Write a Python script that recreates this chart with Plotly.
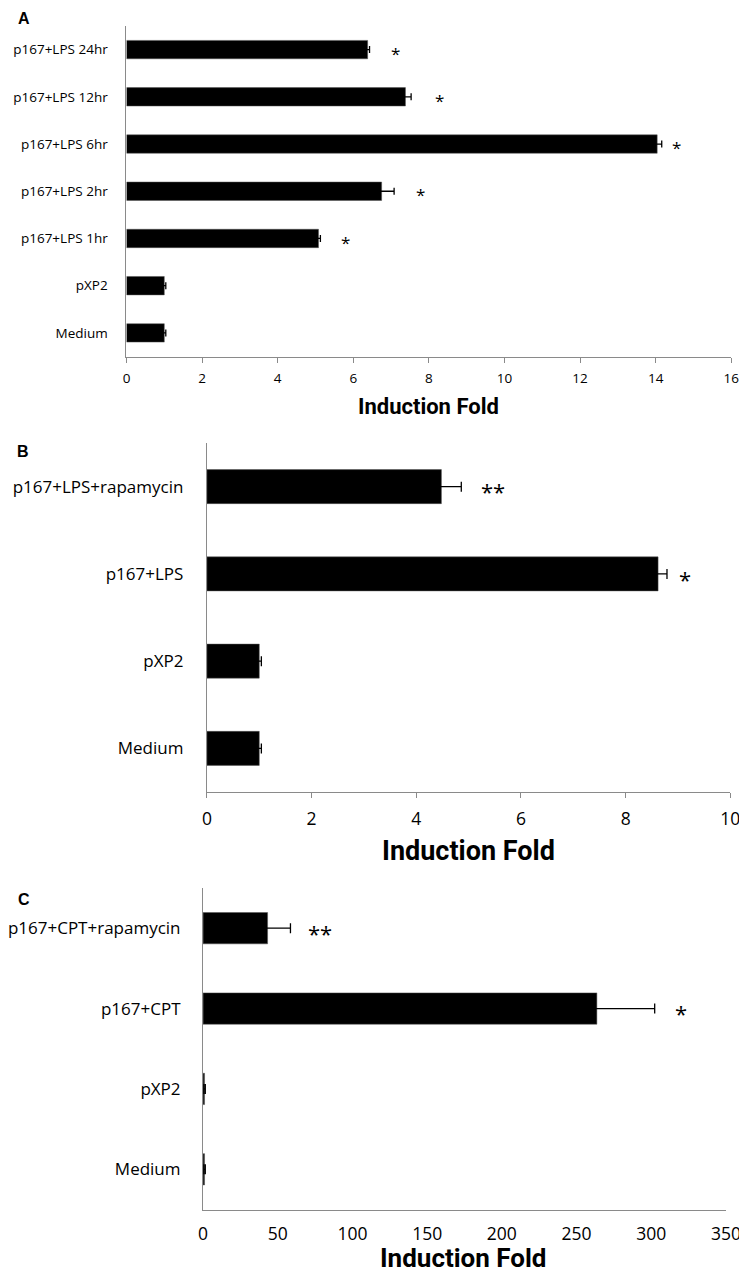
import plotly.graph_objects as go

# ---------------- data ----------------
cats_a = ["Medium", "pXP2", "p167+LPS 1hr", "p167+LPS 2hr", "p167+LPS 6hr", "p167+LPS 12hr", "p167+LPS 24hr"]
vals_a = [1.0, 1.0, 5.08, 6.75, 14.04, 7.38, 6.38]
errs_a = [0.04, 0.04, 0.05, 0.33, 0.12, 0.15, 0.05]
star_a = ["", "", "*", "*", "*", "*", "*"]
star_x_a = [None, None, 5.8, 7.77, 14.54, 8.27, 7.13]

cats_b = ["Medium", "pXP2", "p167+LPS", "p167+LPS+rapamycin"]
vals_b = [1.0, 1.0, 8.62, 4.48]
errs_b = [0.04, 0.04, 0.17, 0.38]
star_b = ["", "", "*", "**"]
star_x_b = [None, None, 9.14, 5.46]

cats_c = ["Medium", "pXP2", "p167+CPT", "p167+CPT+rapamycin"]
vals_c = [1.0, 1.0, 263.6, 43.2]
errs_c = [0.5, 0.5, 38.7, 15.3]
star_c = ["", "", "*", "**"]
star_x_c = [None, None, 319.6, 78.3]

ticks_a = [0, 2, 4, 6, 8, 10, 12, 14, 16]
ticks_b = [0, 2, 4, 6, 8, 10]
ticks_c = [0, 50, 100, 150, 200, 250, 300, 350]
axis_title = "Induction Fold"

# ---------------- layout helpers ----------------
W, H = 747, 1276
def px(x):
    return x / W
def py(y):
    return 1 - y / H

FONT = "Open Sans"
TFONT = "Roboto"
GRAY = "#8a8a8a"

panels = [
    dict(cats=cats_a, vals=vals_a, errs=errs_a, stars=star_a, sx=star_x_a, ticks=ticks_a,
         xdom=(114, 738), ydom=(18, 348.5), lab=13.5, tick=13.5, title=22, star=17,
         ttl_xy=(426, 398), letter="A", let_xy=(8, 11), ticklen=5, ystd=15, xstd=4, cap=3.5),
    dict(cats=cats_b, vals=vals_b, errs=errs_b, stars=star_b, sx=star_x_b, ticks=ticks_b,
         xdom=(197, 737), ydom=(435, 784), lab=17, tick=17.5, title=27, star=22,
         ttl_xy=(467, 843), letter="B", let_xy=(7, 444), ticklen=5, ystd=19, xstd=6, cap=5),
    dict(cats=cats_c, vals=vals_c, errs=errs_c, stars=star_c, sx=star_x_c, ticks=ticks_c,
         xdom=(193, 732.5), ydom=(880, 1201.5), lab=17, tick=17.5, title=26, star=22,
         ttl_xy=(461.5, 1250), letter="C", let_xy=(8, 891), ticklen=0, ystd=18, xstd=8, cap=5),
]

fig = go.Figure()
annotations = []
layout = dict(
    width=W, height=H,
    margin=dict(l=0, r=0, t=0, b=0),
    paper_bgcolor="white", plot_bgcolor="white",
    showlegend=False,
    font=dict(family=FONT, color="black"),
)

for i, p in enumerate(panels):
    n = "" if i == 0 else str(i + 1)
    xa, ya = "x" + n, "y" + n
    fig.add_trace(go.Bar(
        x=p["vals"], y=p["cats"], orientation="h",
        marker=dict(color="black", line=dict(color="#555555", width=0.5)),
        width=0.39,
        error_x=dict(type="data", array=p["errs"], color="black", thickness=1.3, width=p["cap"]),
        xaxis=xa, yaxis=ya, hoverinfo="skip",
    ))
    rng = [p["ticks"][0], p["ticks"][-1]]
    layout["xaxis" + n] = dict(
        domain=[px(p["xdom"][0]), px(p["xdom"][1])], anchor=ya,
        range=rng, tickvals=p["ticks"], showgrid=False, zeroline=False,
        showline=True, linecolor=GRAY, linewidth=1.2,
        ticks="outside" if p["ticklen"] else "", ticklen=p["ticklen"], tickcolor=GRAY, tickwidth=1,
        tickfont=dict(family=FONT, size=p["tick"], color="black"),
        ticklabelstandoff=p["xstd"], fixedrange=True,
    )
    layout["yaxis" + n] = dict(
        domain=[py(p["ydom"][1]), py(p["ydom"][0])], anchor=xa,
        type="category", categoryorder="array", categoryarray=p["cats"],
        range=[-0.5, len(p["cats"]) - 0.5],
        showgrid=False, zeroline=False, showline=True, linecolor=GRAY, linewidth=1.2,
        ticks="", tickfont=dict(family=FONT, size=p["lab"], color="black"),
        ticklabelstandoff=p["ystd"], fixedrange=True,
    )
    for c, s, x in zip(p["cats"], p["stars"], p["sx"]):
        if s:
            annotations.append(dict(
                x=x, y=c, xref=xa, yref=ya, text=s, showarrow=False,
                xanchor="center", yanchor="middle", yshift=-p["star"] * 0.22,
                font=dict(family=FONT, size=p["star"], color="black"),
            ))
    annotations.append(dict(
        x=px(p["ttl_xy"][0]), y=py(p["ttl_xy"][1]), xref="paper", yref="paper",
        text="<b>" + axis_title + "</b>", showarrow=False, xanchor="center", yanchor="middle",
        font=dict(family=TFONT, size=p["title"], color="black"),
    ))
    annotations.append(dict(
        x=px(p["let_xy"][0]), y=py(p["let_xy"][1]), xref="paper", yref="paper",
        text="<b>" + p["letter"] + "</b>", showarrow=False, xanchor="center", yanchor="middle",
        font=dict(family="Liberation Sans", size=16, color="black"),
    ))

layout["annotations"] = annotations
fig.update_layout(**layout)
fig.write_html("out.html")
